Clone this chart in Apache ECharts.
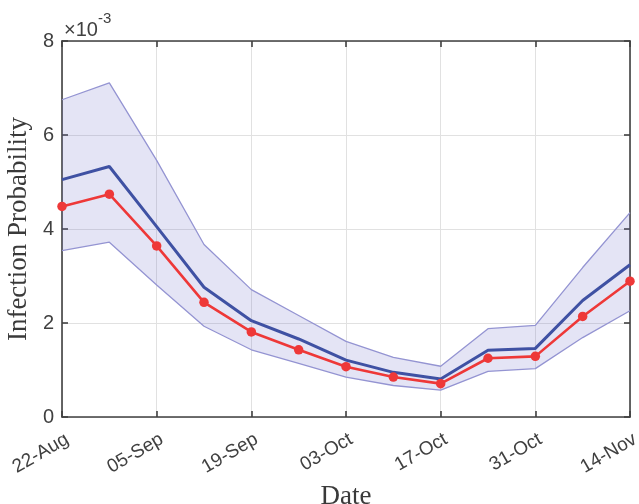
<!DOCTYPE html>
<html>
<head>
<meta charset="utf-8">
<script src="https://cdn.jsdelivr.net/npm/echarts@6/dist/echarts.min.js"></script>
<style>
  html, body { margin: 0; padding: 0; background: #fff; }
  #chart { width: 639px; height: 504px; }
</style>
</head>
<body>
<div id="chart"></div>
<script>
// Weekly sample dates (ISO) and the x tick labels (every two weeks)
const dates = ['2020-08-22','2020-08-29','2020-09-05','2020-09-12','2020-09-19','2020-09-26',
               '2020-10-03','2020-10-10','2020-10-17','2020-10-24','2020-10-31','2020-11-07','2020-11-14'];
const tickLabels = ['22-Aug','05-Sep','19-Sep','03-Oct','17-Oct','31-Oct','14-Nov'];

// Infection probability, in units of 1e-3
const meanE3     = [5.05, 5.33, 4.05, 2.76, 2.05, 1.66, 1.21, 0.95, 0.81, 1.42, 1.46, 2.48, 3.24];
const observedE3 = [4.48, 4.74, 3.64, 2.44, 1.81, 1.43, 1.07, 0.85, 0.71, 1.25, 1.29, 2.14, 2.89];
const upperE3    = [6.75, 7.11, 5.46, 3.67, 2.71, 2.16, 1.61, 1.27, 1.08, 1.88, 1.95, 3.18, 4.35];
const lowerE3    = [3.54, 3.72, 2.81, 1.93, 1.43, 1.14, 0.85, 0.67, 0.57, 0.97, 1.03, 1.69, 2.26];

const DAY = 86400000;
const t0 = Date.parse(dates[0]);
const days = dates.map(d => Math.round((Date.parse(d) - t0) / DAY));

const pairs = arr => arr.map((v, i) => [days[i], v]);

const axisColor = '#404040';
const gridColor = '#e1e1e1';

const chart = echarts.init(document.getElementById('chart'), null, { renderer: 'canvas' });

// Top and right axes close the box, with inward ticks only
const boxAxis = {
  axisLine: { show: true, onZero: false, lineStyle: { color: axisColor, width: 1.6 } },
  axisTick: { show: true, inside: true, length: 6, lineStyle: { color: axisColor, width: 1.6 } },
  axisLabel: { show: false },
  splitLine: { show: false }
};

chart.setOption({
  animation: false,
  backgroundColor: '#ffffff',
  grid: { left: 62, right: 9, top: 41, bottom: 87, containLabel: false, outerBoundsMode: 'none' },
  xAxis: [
    {
      type: 'value', min: 0, max: 84, interval: 14, position: 'bottom',
      name: 'Date', nameLocation: 'middle', nameGap: 58,
      nameTextStyle: { fontFamily: 'Liberation Serif', fontSize: 27, color: '#3a3a3a' },
      axisLine: { show: true, onZero: false, lineStyle: { color: axisColor, width: 1.6 } },
      axisTick: { show: true, inside: true, length: 6, lineStyle: { color: axisColor, width: 1.6 } },
      axisLabel: {
        rotate: 30, margin: 24, color: '#404040', fontFamily: 'Liberation Sans', fontSize: 19,
        padding: [0, -6, 0, 0],
        formatter: v => tickLabels[Math.round(v / 14)] || ''
      },
      splitLine: { show: true, lineStyle: { color: gridColor, width: 1 } }
    },
    Object.assign({ type: 'value', min: 0, max: 84, interval: 14, position: 'top' }, boxAxis)
  ],
  yAxis: [
    {
      type: 'value', min: 0, max: 8, interval: 2, position: 'left',
      name: 'Infection Probability', nameLocation: 'middle', nameGap: 27,
      nameTextStyle: { fontFamily: 'Liberation Serif', fontSize: 27, color: '#3a3a3a' },
      axisLine: { show: true, onZero: false, lineStyle: { color: axisColor, width: 1.6 } },
      axisTick: { show: true, inside: true, length: 6, lineStyle: { color: axisColor, width: 1.6 } },
      axisLabel: { margin: 8, color: '#404040', fontFamily: 'Liberation Sans', fontSize: 20 },
      splitLine: { show: true, lineStyle: { color: gridColor, width: 1 } }
    },
    Object.assign({ type: 'value', min: 0, max: 8, interval: 2, position: 'right' }, boxAxis)
  ],
  graphic: [
    {
      type: 'text', left: 64, top: 11,
      style: {
        text: '{a|\u00d710}{b|-3}',
        rich: {
          a: { fontFamily: 'Liberation Sans', fontSize: 20, fill: '#404040', verticalAlign: 'bottom', padding: [9, 0, 0, 0] },
          b: { fontFamily: 'Liberation Sans', fontSize: 15, fill: '#404040', verticalAlign: 'top', padding: [0, 0, 9, 0] }
        }
      }
    }
  ],
  series: [
    {
      // Shaded band between lower and upper bounds
      type: 'custom',
      xAxisIndex: 0, yAxisIndex: 0,
      silent: true, z: 1,
      data: [0],
      renderItem: (params, api) => {
        const top = upperE3.map((v, i) => api.coord([days[i], v]));
        const bot = lowerE3.map((v, i) => api.coord([days[i], v])).reverse();
        return {
          type: 'polygon',
          shape: { points: top.concat(bot) },
          style: { fill: 'rgba(112,112,200,0.19)', stroke: 'none' }
        };
      }
    },
    {
      type: 'line', data: pairs(upperE3), showSymbol: false, z: 2,
      lineStyle: { color: '#9494d2', width: 1.3 }
    },
    {
      type: 'line', data: pairs(lowerE3), showSymbol: false, z: 2,
      lineStyle: { color: '#9494d2', width: 1.3 }
    },
    {
      type: 'line', data: pairs(meanE3), showSymbol: false, z: 3,
      lineStyle: { color: '#3f51a3', width: 3 }
    },
    {
      type: 'line', data: pairs(observedE3), z: 4,
      symbol: 'circle', symbolSize: 9.5,
      itemStyle: { color: '#ee3838' },
      lineStyle: { color: '#ee3838', width: 2.6 }
    }
  ]
});
</script>
</body>
</html>
